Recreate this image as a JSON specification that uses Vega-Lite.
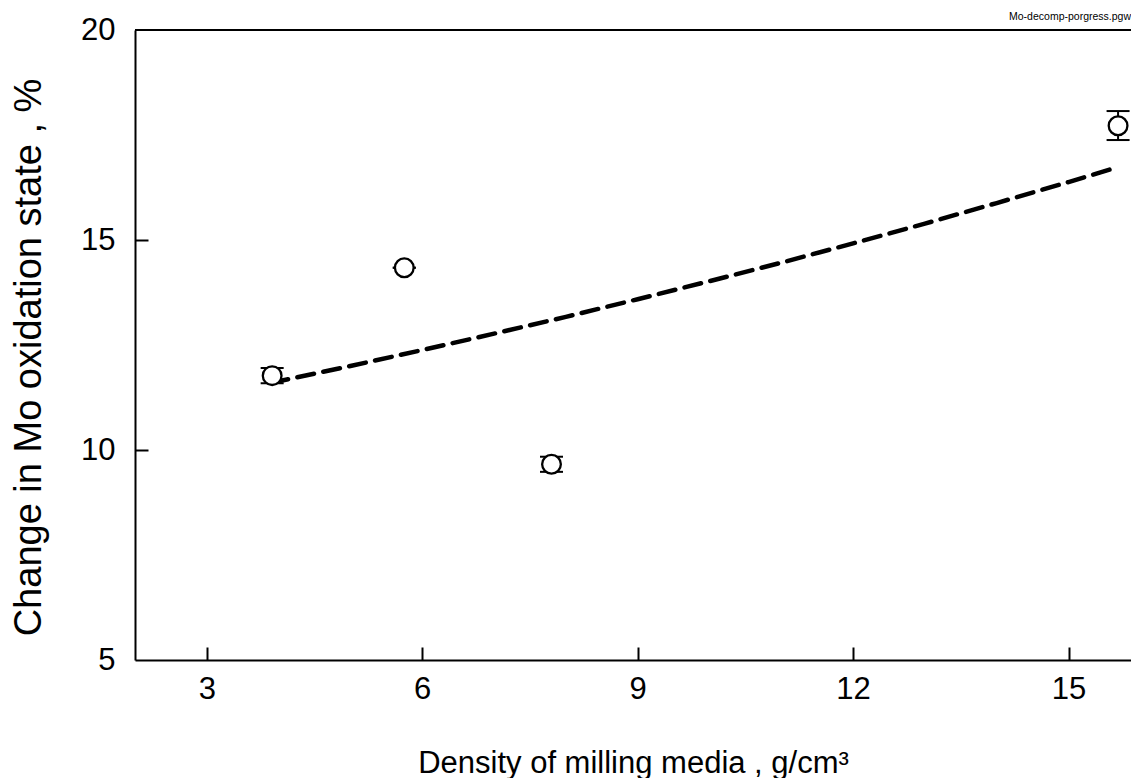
{
  "$schema": "https://vega.github.io/schema/vega-lite/v6.json",
  "width": 996,
  "height": 630,
  "autosize": {"type": "none"},
  "padding": {"left": 135, "top": 30, "right": 0, "bottom": 118},
  "background": "white",
  "config": {
    "view": {"stroke": null},
    "font": "Liberation Sans",
    "axis": {
      "grid": false,
      "domainColor": "black",
      "domainWidth": 2,
      "tickColor": "black",
      "tickWidth": 2,
      "tickSize": 13,
      "labelColor": "black",
      "labelFont": "Liberation Sans",
      "labelFontSize": 31,
      "titleColor": "black",
      "titleFont": "Liberation Sans",
      "titleFontWeight": "normal"
    }
  },
  "title": {
    "text": "Mo-decomp-porgress.pgw",
    "anchor": "end",
    "frame": "group",
    "fontSize": 10.5,
    "fontWeight": "normal",
    "font": "Liberation Sans",
    "color": "black",
    "offset": -8
  },
  "resolve": {"axis": {"x": "independent", "y": "independent"}},
  "datasets": {
    "pts": [
      {"density": 3.91, "change": 11.77, "lo": 11.59, "hi": 11.95},
      {"density": 5.75, "change": 14.34, "lo": 14.34, "hi": 14.34},
      {"density": 7.80, "change": 9.66, "lo": 9.48, "hi": 9.84},
      {"density": 15.69, "change": 17.72, "lo": 17.38, "hi": 18.07}
    ],
    "fit": [
      {"density": 3.9, "change": 11.60},
      {"density": 5, "change": 12.00},
      {"density": 6, "change": 12.38},
      {"density": 7, "change": 12.77},
      {"density": 8, "change": 13.17},
      {"density": 9, "change": 13.59},
      {"density": 10, "change": 14.02},
      {"density": 11, "change": 14.46},
      {"density": 12, "change": 14.92},
      {"density": 13, "change": 15.39},
      {"density": 14, "change": 15.88},
      {"density": 15, "change": 16.38},
      {"density": 15.6, "change": 16.69}
    ]
  },
  "layer": [
    {
      "data": {"name": "fit"},
      "mark": {"type": "line", "color": "black", "strokeWidth": 4.5, "strokeDash": [17, 9.5], "strokeCap": "round"},
      "encoding": {
        "x": {
          "field": "density",
          "type": "quantitative",
          "scale": {"domain": [2, 15.87], "nice": false, "zero": false},
          "axis": {
            "values": [3, 6, 9, 12, 15],
            "format": "d",
            "ticks": false,
            "title": "Density of milling media , g/cm³",
            "titleFontSize": 31,
            "titleBaseline": "alphabetic",
            "titleY": 112,
            "labelPadding": 14,
            "labelFlush": false
          }
        },
        "y": {
          "field": "change",
          "type": "quantitative",
          "scale": {"domain": [5, 20], "nice": false, "zero": false},
          "axis": {
            "values": [5, 10, 15, 20],
            "format": "d",
            "ticks": false,
            "title": "Change in Mo oxidation state , %",
            "titleFontSize": 38,
            "titleBaseline": "alphabetic",
            "titleX": -95,
            "titleY": 327,
            "labelPadding": 20,
            "labelFlush": false
          }
        }
      }
    },
    {
      "data": {"values": [{}]},
      "mark": {"type": "rule", "color": "black", "strokeWidth": 2},
      "encoding": {"y": {"datum": 20, "axis": null}}
    },
    {
      "data": {"name": "pts"},
      "mark": {"type": "rule", "color": "black", "strokeWidth": 2},
      "encoding": {
        "x": {"field": "density", "type": "quantitative", "axis": null},
        "y": {"field": "lo", "type": "quantitative", "axis": null},
        "y2": {"field": "hi"}
      }
    },
    {
      "data": {"name": "pts"},
      "mark": {"type": "tick", "orient": "horizontal", "color": "black", "size": 23, "thickness": 2, "opacity": 1},
      "encoding": {
        "x": {"field": "density", "type": "quantitative", "axis": null},
        "y": {"field": "lo", "type": "quantitative", "axis": null}
      }
    },
    {
      "data": {"name": "pts"},
      "mark": {"type": "tick", "orient": "horizontal", "color": "black", "size": 23, "thickness": 2, "opacity": 1},
      "encoding": {
        "x": {"field": "density", "type": "quantitative", "axis": null},
        "y": {"field": "hi", "type": "quantitative", "axis": null}
      }
    },
    {
      "data": {"name": "pts"},
      "mark": {"type": "point", "shape": "circle", "filled": true, "fill": "white", "stroke": "black", "strokeWidth": 2.3, "size": 350, "opacity": 1},
      "encoding": {
        "x": {
          "field": "density",
          "type": "quantitative",
          "axis": {
            "orient": "bottom",
            "offset": -13,
            "values": [3, 6, 9, 12, 15],
            "domain": false,
            "labels": false,
            "ticks": true,
            "tickSize": 13,
            "title": null
          }
        },
        "y": {
          "field": "change",
          "type": "quantitative",
          "axis": {
            "orient": "left",
            "offset": -13,
            "values": [10, 15],
            "domain": false,
            "labels": false,
            "ticks": true,
            "tickSize": 13,
            "title": null
          }
        }
      }
    }
  ]
}
